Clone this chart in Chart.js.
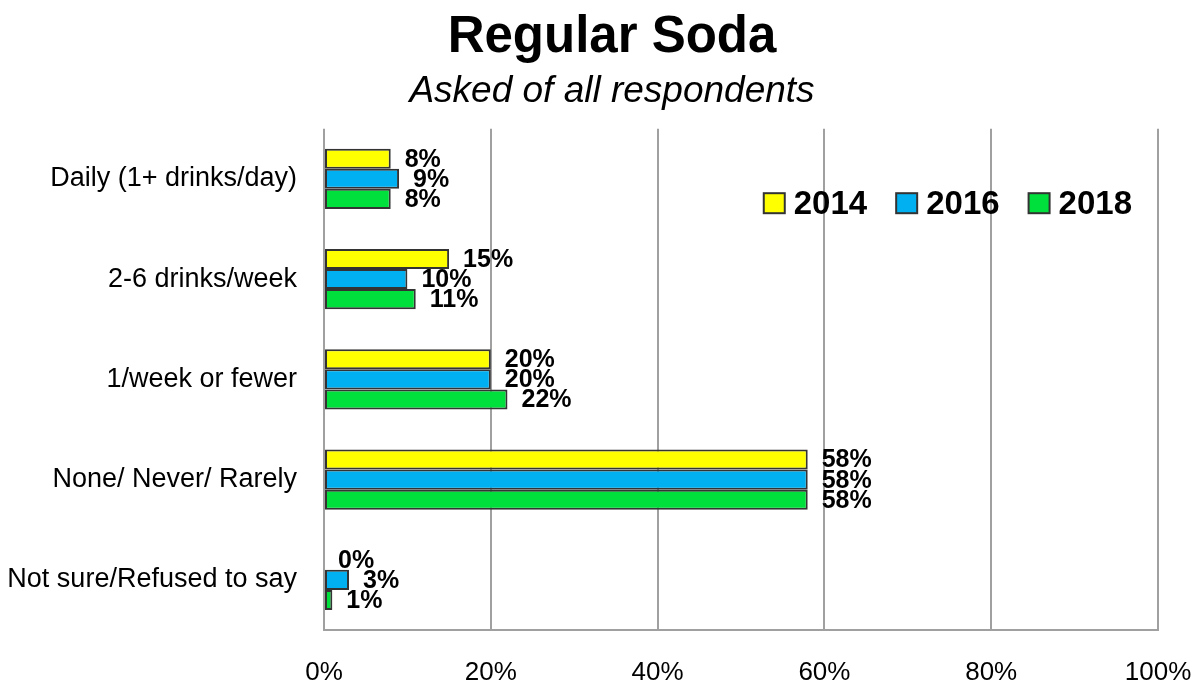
<!DOCTYPE html>
<html lang="en">
<head>
    <meta charset="UTF-8">
    <title>Regular Soda</title>
    <script src="https://cdn.jsdelivr.net/npm/chart.js"></script>
    <style>
        html, body {
            margin: 0;
            padding: 0;
            background: #ffffff;
        }
        #wrap {
            width: 1199px;
            height: 688px;
        }
    </style>
</head>
<body>
    <div id="wrap"><canvas id="sodaChart"></canvas></div>

    <script>
        // Survey answers, one value per frequency bucket
        const categories = ['Daily (1+ drinks/day)', '2-6 drinks/week', '1/week or fewer', 'None/ Never/ Rarely', 'Not sure/Refused to say'];
        const years = ['2014', '2016', '2018'];
        const values2014 = [8, 15, 20, 58, 0];
        const values2016 = [9, 10, 20, 58, 3];
        const values2018 = [8, 11, 22, 58, 1];
        const xTicks = [0, 20, 40, 60, 80, 100];

        const colors = ['#FFFF00', '#00B0F0', '#00E03C'];
        const FONT = "'Liberation Sans', Arial, sans-serif";

        // value labels just past the end of each bar
        const barLabels = {
            id: 'barLabels',
            afterDatasetsDraw(chart) {
                const ctx = chart.ctx;
                ctx.save();
                ctx.font = 'bold 25px ' + FONT;
                ctx.fillStyle = '#000';
                ctx.textAlign = 'left';
                ctx.textBaseline = 'middle';
                chart.data.datasets.forEach((ds, i) => {
                    chart.getDatasetMeta(i).data.forEach((bar, j) => {
                        ctx.fillText(ds.data[j] + '%', bar.x + 14, bar.y + 1);
                    });
                });
                ctx.restore();
            }
        };

        // legend sits inside the plot, top right
        const innerLegend = {
            id: 'innerLegend',
            afterDraw(chart) {
                const ctx = chart.ctx;
                const area = chart.chartArea;
                ctx.save();
                ctx.font = 'bold 33px ' + FONT;
                ctx.textBaseline = 'middle';
                const box = 21, gap = 9, between = 29;
                const items = chart.data.datasets.map(ds => ({
                    text: ds.label, color: ds.backgroundColor, w: ctx.measureText(ds.label).width
                }));
                let total = 0;
                items.forEach((it, i) => { total += box + gap + it.w + (i ? between : 0); });
                let x = area.right - 26 - total;
                const y = area.top + 75;
                items.forEach(it => {
                    ctx.fillStyle = it.color;
                    ctx.fillRect(x, y - box / 2, box, box - 1);
                    ctx.strokeStyle = '#333';
                    ctx.lineWidth = 2;
                    ctx.strokeRect(x, y - box / 2, box, box - 1);
                    ctx.fillStyle = '#000';
                    ctx.fillText(it.text, x + box + gap, y + 1);
                    x += box + gap + it.w + between;
                });
                ctx.restore();
            }
        };

        // centre title + subtitle a little right of the canvas middle
        const shiftTitles = {
            id: 'shiftTitles',
            afterLayout(chart) {
                chart.boxes.forEach(b => {
                    if (!b.axis && b.options && b.options.text !== undefined) {
                        b.left += 66;
                    }
                });
            }
        };

        const ctx = document.getElementById('sodaChart').getContext('2d');
        new Chart(ctx, {
            type: 'bar',
            data: {
                labels: categories,
                datasets: [values2014, values2016, values2018].map((vals, i) => ({
                    label: years[i],
                    data: vals,
                    backgroundColor: colors[i],
                    borderColor: '#333',
                    borderWidth: 2,
                    borderSkipped: false,
                    barPercentage: 1,
                    categoryPercentage: 0.6
                }))
            },
            options: {
                indexAxis: 'y',
                responsive: true,
                maintainAspectRatio: false,
                animation: false,
                layout: {
                    padding: { left: 0, right: 41, top: 0, bottom: 0 }
                },
                plugins: {
                    legend: { display: false },
                    tooltip: { enabled: false },
                    title: {
                        display: true,
                        text: 'Regular Soda',
                        color: '#000',
                        font: { family: FONT, size: 51, weight: 'bold', lineHeight: 1.0 },
                        padding: { top: 12, bottom: 0 }
                    },
                    subtitle: {
                        display: true,
                        text: 'Asked of all respondents',
                        color: '#000',
                        font: { family: FONT, size: 37, style: 'italic', lineHeight: 1.1 },
                        padding: { top: 8, bottom: 17 }
                    }
                },
                scales: {
                    x: {
                        min: 0,
                        max: 100,
                        afterBuildTicks(axis) {
                            axis.ticks = xTicks.map(v => ({ value: v }));
                        },
                        afterFit(axis) {
                            axis.height = 58;
                            axis.paddingLeft = 0;
                            axis.paddingRight = 0;
                        },
                        ticks: {
                            color: '#000',
                            padding: 27,
                            maxRotation: 0,
                            font: { family: FONT, size: 26 },
                            callback: v => v + '%'
                        },
                        grid: {
                            color: '#a0a0a0',
                            lineWidth: 2,
                            drawTicks: false
                        },
                        border: { display: true, color: '#a0a0a0', width: 2 }
                    },
                    y: {
                        afterFit(axis) {
                            axis.width = 324;
                        },
                        ticks: {
                            color: '#000',
                            padding: 27,
                            font: { family: FONT, size: 27 }
                        },
                        grid: { display: false, drawTicks: false },
                        border: { display: false }
                    }
                }
            },
            plugins: [barLabels, innerLegend, shiftTitles]
        });
    </script>
</body>
</html>
